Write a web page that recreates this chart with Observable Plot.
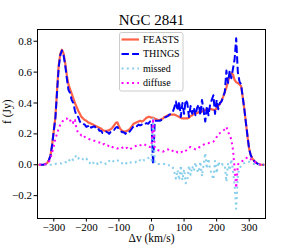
<!DOCTYPE html>
<html><head><meta charset="utf-8">
<script src="https://cdn.jsdelivr.net/npm/d3@7"></script>
<script src="https://cdn.jsdelivr.net/npm/@observablehq/plot@0.6"></script>
<style>html,body{margin:0;padding:0;background:#fff}svg{display:block}</style>
</head><body><div id="chart"></div>
<script>
const title = "NGC 2841";
const xLabel = "\u0394v (km/s)";
const yLabel = "f (Jy)";
const seriesNames = ["FEASTS", "THINGS", "missed", "diffuse"];
const xTicks = [-300, -200, -100, 0, 100, 200, 300];
const yTicks = [-0.2, 0.0, 0.2, 0.4, 0.6, 0.8];

const vel = [
 -345,-340,-335,-330,-325,-320,-315,-310,-305,-300,
 -295,-290,-285,-280,-275,-270,-265,-260,-255,-250,
 -245,-240,-235,-230,-225,-220,-215,-210,-205,-200,
 -195,-190,-185,-180,-175,-170,-165,-160,-155,-150,
 -145,-140,-135,-130,-125,-120,-115,-110,-105,-100,
 -95,-90,-85,-80,-75,-70,-65,-60,-55,-50,
 -45,-40,-35,-30,-25,-20,-15,-10,-5,0,
 5,10,15,20,25,30,35,40,45,50,
 55,60,65,70,75,80,85,90,95,100,
 105,110,115,120,125,130,135,140,145,150,
 155,160,165,170,175,180,185,190,195,200,
 205,210,215,220,225,230,235,240,245,250,
 255,260,265,270,275,280,285,290,295,300,
 305,310,315,320,325,330,335,340,345];

const feasts = [
 0,0,0,0.002,0.005,0.012,0.03,0.06,0.13,0.22,
 0.31,0.48,0.64,0.72,0.745,0.72,0.66,0.58,0.52,0.49,
 0.46,0.43,0.40,0.375,0.35,0.33,0.31,0.30,0.29,0.285,
 0.275,0.27,0.265,0.26,0.255,0.25,0.245,0.24,0.235,0.225,
 0.22,0.22,0.22,0.225,0.23,0.24,0.255,0.27,0.275,0.25,
 0.23,0.22,0.215,0.215,0.22,0.225,0.235,0.25,0.265,0.27,
 0.275,0.28,0.285,0.28,0.285,0.295,0.305,0.31,0.31,0.305,
 0.305,0.30,0.295,0.29,0.29,0.295,0.30,0.31,0.315,0.32,
 0.32,0.325,0.325,0.325,0.32,0.315,0.31,0.305,0.30,0.30,
 0.30,0.30,0.305,0.315,0.32,0.33,0.335,0.335,0.34,0.34,
 0.345,0.35,0.355,0.355,0.36,0.36,0.36,0.355,0.355,0.365,
 0.38,0.395,0.415,0.44,0.47,0.50,0.54,0.575,0.595,0.585,
 0.55,0.535,0.53,0.52,0.51,0.44,0.36,0.27,0.18,0.10,
 0.06,0.04,0.025,0.015,0.008,0.003,0,0,0];

const things = [
 0,0,0,0.002,0.005,0.012,0.03,0.06,0.13,0.22,
 0.305,0.47,0.63,0.71,0.74,0.71,0.645,0.56,0.485,0.465,
 0.42,0.40,0.35,0.315,0.31,0.28,0.265,0.265,0.26,0.245,
 0.25,0.26,0.24,0.245,0.25,0.235,0.24,0.22,0.22,0.205,
 0.205,0.215,0.21,0.20,0.215,0.225,0.225,0.24,0.245,0.23,
 0.22,0.21,0.21,0.20,0.215,0.21,0.22,0.235,0.25,0.255,
 0.25,0.26,0.255,0.26,0.255,0.265,0.27,0.265,0.28,0.28,
 0.0,0.285,0.285,0.285,0.285,0.29,0.295,0.305,0.31,0.315,
 0.325,0.33,0.34,0.37,0.41,0.35,0.41,0.31,0.40,0.33,
 0.42,0.40,0.31,0.38,0.33,0.37,0.32,0.37,0.39,0.32,
 0.42,0.35,0.28,0.38,0.32,0.39,0.42,0.45,0.33,0.42,
 0.36,0.40,0.41,0.44,0.47,0.61,0.53,0.61,0.56,0.62,
 0.68,0.82,0.60,0.54,0.52,0.44,0.36,0.27,0.18,0.10,
 0.06,0.04,0.025,0.015,0.008,0.003,0,0,0];

const missed = [
 0,0,0,0,0,0,0,0,0,0,
 0.005,0.01,0.01,0.01,0.005,0.01,0.015,0.02,0.035,0.025,
 0.04,0.03,0.05,0.06,0.04,0.05,0.045,0.035,0.03,0.04,
 0.025,0.01,0.025,0.015,0.005,0.015,0.005,0.02,0.015,0.02,
 0.015,0.005,0.01,0.025,0.015,0.015,0.03,0.03,0.03,0.02,
 0.01,0.01,0.005,0.015,0.005,0.015,0.015,0.015,0.015,0.015,
 0.025,0.02,0.03,0.02,0.03,0.03,0.035,0.045,0.03,0.025,
 0.30,0.015,0.01,0.005,0.005,0.005,0.005,0.005,0.005,0.005,
 -0.005,-0.005,-0.015,-0.045,-0.09,-0.035,-0.10,-0.005,-0.10,-0.03,
 -0.12,-0.10,-0.005,-0.065,-0.01,-0.04,0.015,-0.035,-0.05,0.02,
 -0.075,0.0,0.075,-0.025,0.04,-0.03,-0.06,-0.095,0.025,-0.055,
 0.02,-0.005,0.005,0.0,0.0,-0.11,0.01,-0.035,0.035,-0.035,
 -0.13,-0.285,-0.07,-0.02,-0.01,0.005,0.01,0.015,0.02,0.02,
 0.015,0.01,0.005,0.005,0,0,0,0,0];

const diffuse = [
 0,0,0,0,0.003,0.008,0.02,0.04,0.08,0.12,
 0.17,0.20,0.235,0.26,0.275,0.29,0.295,0.30,0.28,0.285,
 0.295,0.27,0.29,0.23,0.205,0.20,0.19,0.195,0.18,0.175,
 0.17,0.165,0.16,0.155,0.155,0.15,0.145,0.145,0.14,0.13,
 0.135,0.125,0.125,0.12,0.125,0.115,0.11,0.11,0.105,0.11,
 0.105,0.11,0.115,0.105,0.11,0.10,0.10,0.11,0.115,0.12,
 0.125,0.12,0.125,0.13,0.135,0.13,0.12,0.12,0.115,0.12,
 0.30,0.11,0.10,0.095,0.09,0.09,0.085,0.09,0.095,0.10,
 0.09,0.095,0.09,0.085,0.09,0.08,0.085,0.08,0.085,0.08,
 0.09,0.10,0.11,0.115,0.11,0.105,0.10,0.10,0.11,0.12,
 0.125,0.13,0.135,0.14,0.14,0.145,0.145,0.15,0.16,0.18,
 0.20,0.205,0.215,0.22,0.23,0.245,0.215,0.19,0.165,0.10,
 -0.02,-0.15,0.0,0.015,0.02,0.025,0.03,0.04,0.05,0.045,
 0.035,0.025,0.02,0.015,0.01,0.005,0,0,0];

const rows = vel.map((v, i) => ({v, feasts: feasts[i], things: things[i], missed: missed[i], diffuse: diffuse[i]}));

const minus = "\u2212";
const fmtX = d => (d < 0 ? minus : "") + Math.abs(d);
const fmtY = d => (d < -1e-9 ? minus : "") + Math.abs(d).toFixed(1);

const colors = ["tomato", "#0000ff", "skyblue", "magenta"];
const dashes = [null, "7.4,3.2", "2,3.3", "2,3.3"];
const widths = [2.2, 2, 2, 2];
const keys = ["feasts", "things", "missed", "diffuse"];
const font = "'Liberation Serif','Times New Roman',serif";

const plot = Plot.plot({
  width: 294, height: 245,
  marginLeft: 37, marginRight: 29, marginTop: 29, marginBottom: 27,
  x: {domain: [-350, 350]},
  y: {domain: [-0.348, 0.876]},
  style: {fontFamily: font, fontSize: "11px", background: "#fff", color: "#000"},
  marks: [
    ...keys.map((k, i) => Plot.line(rows, {x: "v", y: k, stroke: colors[i], strokeWidth: widths[i],
        strokeDasharray: dashes[i] || undefined, strokeLinecap: dashes[i] ? "butt" : "round", strokeLinejoin: "round"})),
    Plot.frame({stroke: "#000", strokeWidth: 1}),
    Plot.axisX({ticks: xTicks, tickFormat: fmtX, tickSize: 3.5, tickPadding: 1.5, label: null, fontSize: 11}),
    Plot.axisY({ticks: yTicks, tickFormat: fmtY, tickSize: 3.5, tickPadding: 2, label: null, fontSize: 11}),
    Plot.text([title], {frameAnchor: "top", lineAnchor: "bottom", dy: -5, fontSize: 15}),
    Plot.text([xLabel], {frameAnchor: "bottom", lineAnchor: "bottom", dy: 23.5, fontSize: 11.5}),
    Plot.text([yLabel], {frameAnchor: "left", lineAnchor: "bottom", rotate: -90, dx: -27, fontSize: 11.5})
  ]
});
document.getElementById("chart").appendChild(plot);

// legend
const svg = d3.select(plot);
const lg = svg.append("g").attr("font-family", font).attr("font-size", 10).attr("text-anchor", "start");
lg.append("rect").attr("x", 119.5).attr("y", 32.5).attr("width", 63.5).attr("height", 58.5)
  .attr("rx", 2).attr("fill", "#fff").attr("fill-opacity", 0.9).attr("stroke", "#cccccc");
const entryY = [39.5, 54, 68.5, 83];
seriesNames.forEach((name, i) => {
  lg.append("line").attr("x1", 121.5).attr("x2", 139).attr("y1", entryY[i]).attr("y2", entryY[i])
    .attr("stroke", colors[i]).attr("stroke-width", widths[i])
    .attr("stroke-dasharray", dashes[i]).attr("stroke-linecap", "butt");
  lg.append("text").attr("x", 143).attr("y", entryY[i]).attr("dy", "0.33em")
    .attr("text-anchor", "start").attr("fill", "#000").text(name);
});
</script></body></html>
